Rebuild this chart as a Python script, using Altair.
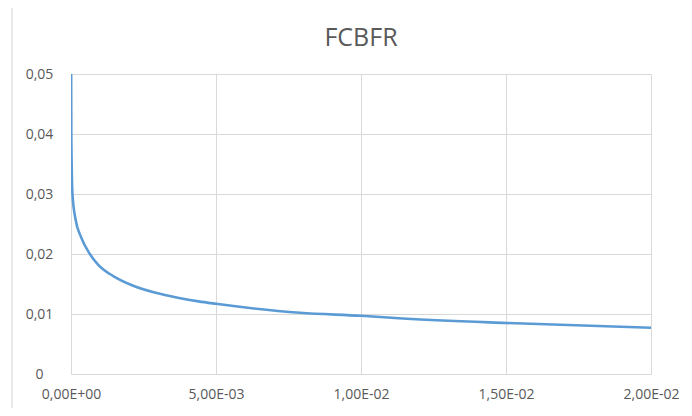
import altair as alt
import pandas as pd

# Series
x_vals = [0.000005, 0.00001, 0.00005, 0.00016, 0.00034, 0.00065, 0.00094, 0.0015,
          0.0021, 0.0032, 0.0044, 0.0050, 0.0079, 0.0100, 0.0113, 0.0150, 0.0200]
y_vals = [0.0500, 0.0400, 0.0300, 0.0257, 0.0229, 0.0200, 0.0182, 0.0162,
          0.0148, 0.0132, 0.0121, 0.0117, 0.0102, 0.0097, 0.0093, 0.0085, 0.0077]

# Axis ticks and labels
x_ticks = [0.0, 0.005, 0.01, 0.015, 0.02]
x_labels = ["0,00E+00", "5,00E-03", "1,00E-02", "1,50E-02", "2,00E-02"]
y_ticks = [0.0, 0.01, 0.02, 0.03, 0.04, 0.05]
y_labels = ["0", "0,01", "0,02", "0,03", "0,04", "0,05"]

title_text = "FCBFR"


def label_expr(ticks, labels):
    expr = "''"
    for t, l in reversed(list(zip(ticks, labels))):
        expr = f"abs(datum.value - {t}) < 1e-9 ? '{l}' : ({expr})"
    return expr


df = pd.DataFrame({"x": x_vals, "y": y_vals})

grey = "#d9d9d9"
text_col = "#595959"
font = "Open Sans"

line = alt.Chart(df).mark_line(
    color="#5B9BD5", strokeWidth=2.6, interpolate="monotone", clip=True
).encode(
    x=alt.X("x:Q",
            scale=alt.Scale(domain=[0, 0.02], nice=False, zero=True),
            axis=alt.Axis(values=x_ticks, labelExpr=label_expr(x_ticks, x_labels),
                          title=None, grid=True, gridColor=grey, domain=False,
                          ticks=False, labelPadding=13, labelFontSize=14,
                          labelColor=text_col, labelFont=font,
                          labelFlush=False, labelOverlap=False)),
    y=alt.Y("y:Q",
            scale=alt.Scale(domain=[0, 0.05], nice=False),
            axis=alt.Axis(values=y_ticks, labelExpr=label_expr(y_ticks, y_labels),
                          title=None, grid=True, gridColor=grey, domain=False,
                          ticks=False, labelPadding=32, labelAlign="center",
                          labelFontSize=14, labelColor=text_col, labelFont=font,
                          labelOverlap=False)),
)

# faint outer chart border on the left, as in the reference
border = alt.Chart(df).mark_rule(color="#e8e8e8", strokeWidth=1.5, clip=False).encode(
    x=alt.value(-59), y=alt.value(-67), y2=alt.value(342)
)

chart = alt.layer(border, line).properties(
    width=580,
    height=300,
    autosize=alt.AutoSizeParams(type="none"),
    padding={"left": 63, "top": 66, "right": 33, "bottom": 34},
    title=alt.TitleParams(title_text, fontSize=25, font=font, color=text_col,
                          fontWeight="normal", anchor="middle", frame="group",
                          offset=-45),
).configure_view(stroke=None)

chart.save("out.html", embed_options={"renderer": "svg", "actions": False})
